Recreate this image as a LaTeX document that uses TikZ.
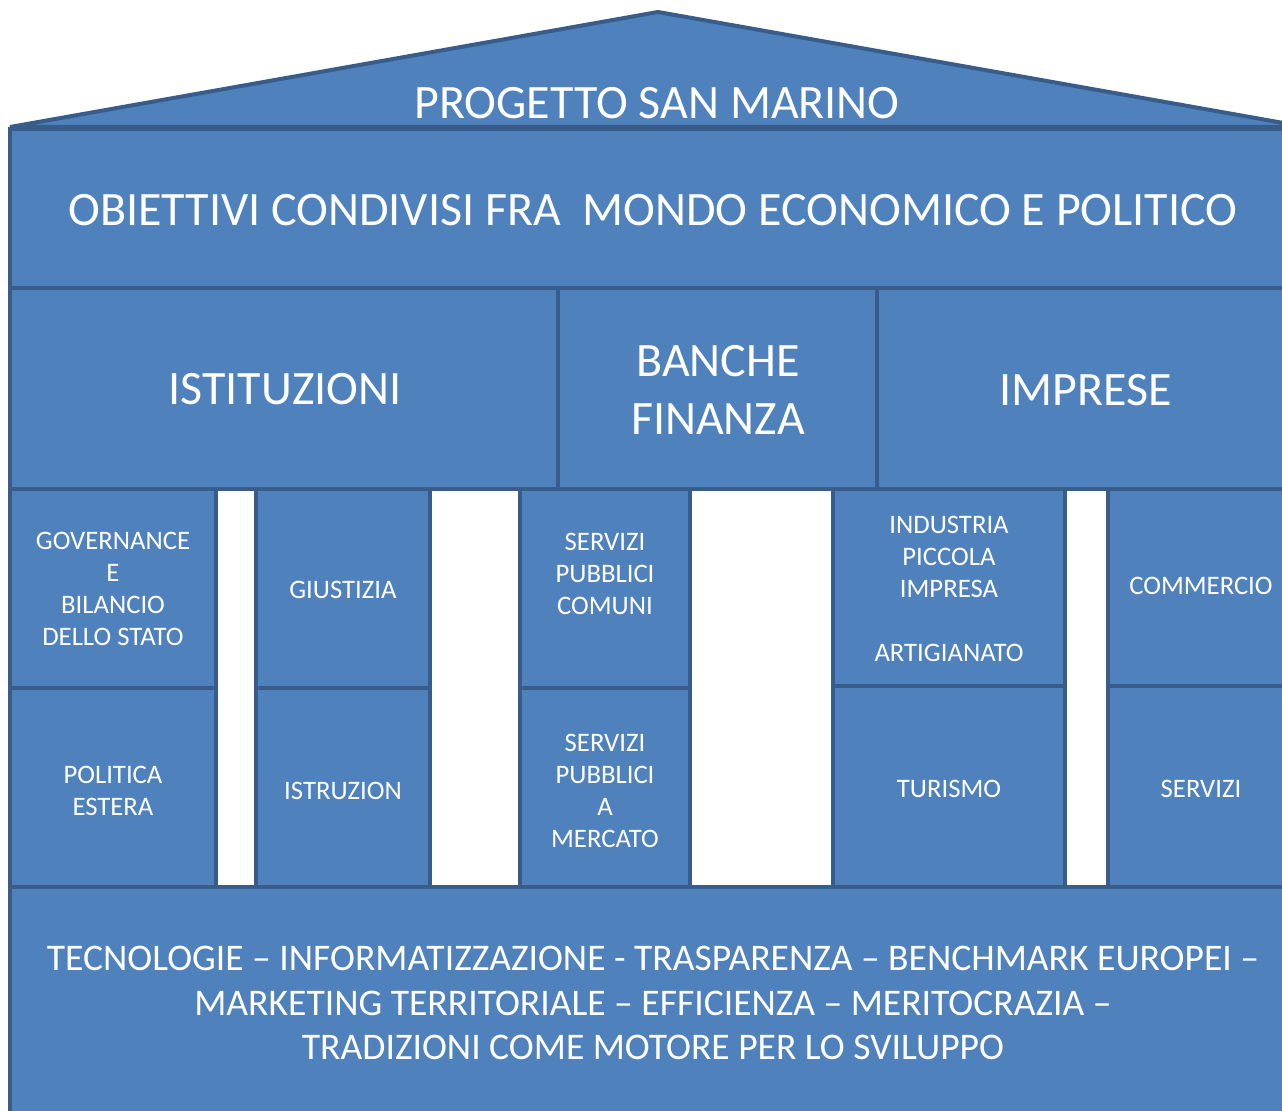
\documentclass[tikz,border=0pt]{standalone}
\usepackage{fontspec}
\setmainfont{Carlito}
\definecolor{boxblue}{HTML}{4F81BD}
\definecolor{edgeblue}{HTML}{385D8A}
\tikzset{
  block/.style={draw=edgeblue, fill=boxblue, line width=0.08cm},
  bigtxt/.style={text=white, align=center, font=\fontsize{27.3}{33}\selectfont},
  smalltxt/.style={text=white, align=center, font=\fontsize{15.2}{18.1}\selectfont},
  basetxt/.style={text=white, align=center, font=\fontsize{21.4}{25.5}\selectfont},
}

\begin{document}
\begin{tikzpicture}[x=0.02cm, y=-0.02cm]
            \useasboundingbox (0,0) rectangle (1282,1111);
            % roof and the two top bands
            \draw[block] (10,127) -- (658,12) -- (1306,127) -- cycle;
            \draw[block] (10,129) rectangle (1300,288);
            \draw[block] (10,288) rectangle (558,489);
            \draw[block] (558,288) rectangle (877,489);
            \draw[block] (877,288) rectangle (1300,489);
            % columns
            \draw[block] (10,489) rectangle (216,688);
            \draw[block] (256,489) rectangle (430,688);
            \draw[block] (520,489) rectangle (690,688);
            \draw[block] (833,489) rectangle (1065,686);
            \draw[block] (1108,489) rectangle (1300,686);
            \draw[block] (10,688) rectangle (216,887);
            \draw[block] (256,688) rectangle (430,887);
            \draw[block] (520,688) rectangle (690,887);
            \draw[block] (833,686) rectangle (1065,887);
            \draw[block] (1108,686) rectangle (1300,887);
            % base
            \draw[block] (10,887) rectangle (1300,1130);

            \node[bigtxt] (progetto) at (657,103) {PROGETTO SAN MARINO};
            \node[bigtxt] (obiettivi) at (653,210) {OBIETTIVI CONDIVISI FRA\ \ MONDO ECONOMICO E POLITICO};
            \node[bigtxt] (istituzioni) at (285,389) {ISTITUZIONI};
            \node[bigtxt] (banche) at (718,390) {BANCHE\\FINANZA};
            \node[bigtxt] (imprese) at (1086,390) {IMPRESE};

            \node[smalltxt] (governance) at (113,589) {GOVERNANCE\\E\\BILANCIO\\DELLO STATO};
            \node[smalltxt] (giustizia) at (343,590) {GIUSTIZIA};
            \node[smalltxt] (comuni) at (605,574) {SERVIZI\\PUBBLICI\\COMUNI};
            \node[smalltxt] (industria) at (949,589) {INDUSTRIA\\PICCOLA\\IMPRESA\\[18.1pt]ARTIGIANATO};
            \node[smalltxt] (commercio) at (1201,586) {COMMERCIO};
            \node[smalltxt] (estera) at (113,791) {POLITICA\\ESTERA};
            \node[smalltxt] (istruzion) at (343,791) {ISTRUZION};
            \node[smalltxt] (mercato) at (605,791) {SERVIZI\\PUBBLICI\\A\\MERCATO};
            \node[smalltxt] (turismo) at (949,789) {TURISMO};
            \node[smalltxt] (servizi) at (1201,789) {SERVIZI};

            \node[basetxt] (tecnologie) at (653,1003) {TECNOLOGIE – INFORMATIZZAZIONE - TRASPARENZA – BENCHMARK EUROPEI –\\MARKETING TERRITORIALE – EFFICIENZA – MERITOCRAZIA –\\TRADIZIONI COME MOTORE PER LO SVILUPPO};
        \end{tikzpicture}
\end{document}
